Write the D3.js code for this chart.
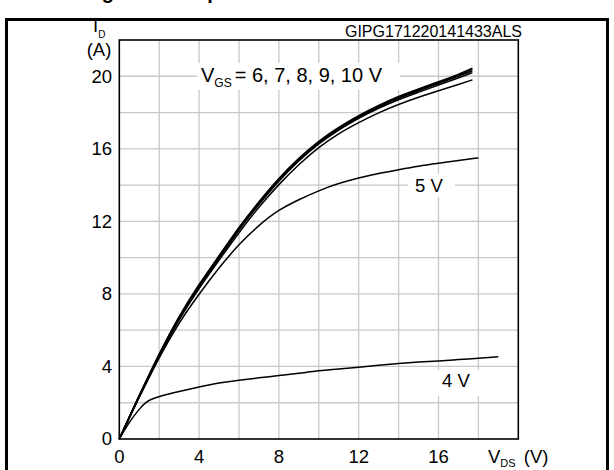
<!DOCTYPE html>
<html>
<head>
<meta charset="utf-8">
<script src="https://cdn.jsdelivr.net/npm/d3@7"></script>
<style>
  body { margin: 0; background: #fff; }
  svg { display: block; font-family: Arial, "Liberation Sans", sans-serif; }
</style>
</head>
<body>
<svg width="614" height="470"></svg>
<script>
// tick labels
var xTicks = [0, 4, 8, 12, 16];
var yTicks = [0, 4, 8, 12, 16, 20];

// VGS = 6..10 V curves share the same VDS points
var vdsHi = [0, 0.5, 1, 1.5, 2, 3, 4, 5, 6, 7, 8, 9, 10, 11, 12, 13, 14, 15, 16, 17, 17.7];
var id10 = [0, 1.2, 2.4, 3.55, 4.7, 6.8, 8.55, 10.1, 11.7, 13.1, 14.4, 15.5, 16.45, 17.2, 17.85, 18.4, 18.9, 19.3, 19.7, 20.1, 20.45];
var id9  = [0, 1.2, 2.4, 3.55, 4.7, 6.75, 8.5, 10.05, 11.65, 13.05, 14.35, 15.45, 16.4, 17.15, 17.8, 18.35, 18.85, 19.25, 19.65, 20.05, 20.38];
var id8  = [0, 1.2, 2.4, 3.5, 4.65, 6.72, 8.47, 10.0, 11.6, 13.0, 14.3, 15.4, 16.35, 17.1, 17.75, 18.3, 18.8, 19.2, 19.6, 20.0, 20.3];
var id7  = [0, 1.2, 2.4, 3.5, 4.62, 6.7, 8.43, 9.95, 11.55, 12.95, 14.25, 15.35, 16.3, 17.05, 17.7, 18.25, 18.72, 19.12, 19.52, 19.9, 20.2];
var id6  = [0, 1.18, 2.35, 3.48, 4.6, 6.62, 8.33, 9.85, 11.4, 12.8, 14.05, 15.15, 16.1, 16.85, 17.45, 18.0, 18.45, 18.85, 19.2, 19.55, 19.8];

var vds5 = [0, 0.5, 1, 1.5, 2, 3, 4, 5, 6, 7, 8, 9, 10, 11, 12, 13, 14, 15, 16, 17, 18];
var id5  = [0, 1.15, 2.3, 3.4, 4.5, 6.45, 8.0, 9.45, 10.75, 11.8, 12.65, 13.2, 13.7, 14.1, 14.4, 14.65, 14.85, 15.05, 15.2, 15.35, 15.5];

var vds4 = [0, 0.5, 1, 1.3, 1.6, 2, 3, 4, 5, 6, 7, 8, 9, 10, 11, 12, 13, 14, 15, 16, 17, 18, 19];
var id4  = [0, 0.95, 1.65, 2.0, 2.2, 2.35, 2.62, 2.87, 3.1, 3.25, 3.37, 3.5, 3.62, 3.77, 3.86, 3.95, 4.06, 4.17, 4.25, 4.3, 4.38, 4.45, 4.53];

var svg = d3.select("svg");

var x = d3.scaleLinear().domain([0, 20]).range([119.3, 518.3]);
var y = d3.scaleLinear().domain([0, 22]).range([439, 40]);

// title, mostly cut off at the top
svg.append("text")
    .attr("x", 84).attr("y", -1)
    .attr("font-size", 20).attr("font-weight", "bold")
    .text("Figure 5. Output characteristics");

// outer frame
svg.append("path")
    .attr("d", "M6.5,470 V19.5 H607.5 V470")
    .attr("fill", "none").attr("stroke", "#000").attr("stroke-width", 3);

// grid
var grid = svg.append("g").attr("stroke", "#c8c8c8").attr("stroke-width", 1.3);
grid.selectAll("line.v")
    .data(d3.range(2, 20, 2))
    .enter().append("line")
    .attr("x1", function(d) { return x(d); }).attr("x2", function(d) { return x(d); })
    .attr("y1", y(0)).attr("y2", y(22));
grid.selectAll("line.h")
    .data(d3.range(2, 22, 2))
    .enter().append("line")
    .attr("y1", function(d) { return y(d); }).attr("y2", function(d) { return y(d); })
    .attr("x1", x(0)).attr("x2", x(20));

// white boxes behind labels
svg.append("rect").attr("x", 197).attr("y", 63).attr("width", 203).attr("height", 27).attr("fill", "#fff");
svg.append("rect").attr("x", 408).attr("y", 174).attr("width", 47).attr("height", 23).attr("fill", "#fff");
svg.append("rect").attr("x", 436).attr("y", 370).attr("width", 44).attr("height", 26).attr("fill", "#fff");

// plot frame
svg.append("rect")
    .attr("x", x(0)).attr("y", y(22))
    .attr("width", x(20) - x(0)).attr("height", y(0) - y(22))
    .attr("fill", "none").attr("stroke", "#000").attr("stroke-width", 1.6);

// curves
var line = d3.line()
    .x(function(d) { return x(d[0]); })
    .y(function(d) { return y(d[1]); })
    .curve(d3.curveBasis);

function pairs(vs, is) { return vs.map(function(v, i) { return [v, is[i]]; }); }

var series = [
  pairs(vds4, id4), pairs(vds5, id5),
  pairs(vdsHi, id6), pairs(vdsHi, id7), pairs(vdsHi, id8), pairs(vdsHi, id9), pairs(vdsHi, id10)
];

svg.append("g").selectAll("path")
    .data(series)
    .enter().append("path")
    .attr("d", line)
    .attr("fill", "none")
    .attr("stroke", "#000")
    .attr("stroke-width", 1.5);

// tick labels
svg.append("g").selectAll("text")
    .data(xTicks)
    .enter().append("text")
    .attr("x", function(d) { return x(d); })
    .attr("y", 463)
    .attr("text-anchor", "middle")
    .attr("font-size", 18.5)
    .text(function(d) { return d; });

svg.append("g").selectAll("text")
    .data(yTicks)
    .enter().append("text")
    .attr("x", 112)
    .attr("y", function(d) { return y(d); })
    .attr("dy", "0.35em")
    .attr("text-anchor", "end")
    .attr("font-size", 18.5)
    .text(function(d) { return d; });

// axis titles
var yl = svg.append("text").attr("x", 93).attr("y", 32).attr("font-size", 18.5);
yl.append("tspan").text("I");
yl.append("tspan").attr("font-size", 10).attr("dy", 6).text("D");
svg.append("text").attr("x", 99).attr("y", 56).attr("text-anchor", "middle").attr("font-size", 18.5).text("(A)");

var xl = svg.append("text").attr("x", 488).attr("y", 463).attr("font-size", 18.5);
xl.append("tspan").text("V");
xl.append("tspan").attr("font-size", 11).attr("dy", 4).text("DS");
xl.append("tspan").attr("dy", -4).attr("dx", 3).text(" (V)");

svg.append("text")
    .attr("x", 522).attr("y", 37)
    .attr("text-anchor", "end")
    .attr("font-size", 16)
    .text("GIPG171220141433ALS");

// curve labels
var vg = svg.append("text").attr("x", 201).attr("y", 82).attr("font-size", 20);
vg.append("tspan").text("V");
vg.append("tspan").attr("font-size", 12).attr("dy", 5).text("GS");
vg.append("tspan").attr("dy", -5).attr("dx", 3).text("= 6, 7, 8, 9, 10 V");

svg.append("text").attr("x", 415).attr("y", 192).attr("font-size", 18.5).text("5 V");
svg.append("text").attr("x", 442).attr("y", 387).attr("font-size", 18.5).text("4 V");
</script>
</body>
</html>
